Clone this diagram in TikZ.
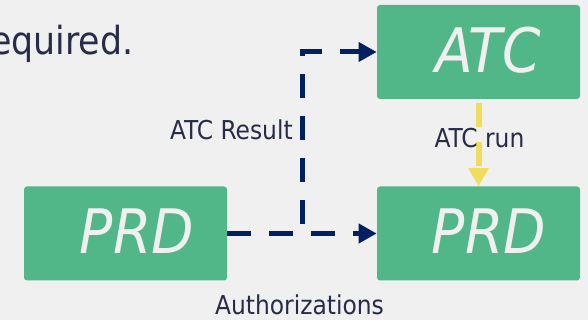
\documentclass[tikz,border=0pt]{standalone}
\usepackage{fontspec}
\setmainfont{DejaVu Sans Condensed}
\usetikzlibrary{arrows.meta}
\definecolor{slidebg}{RGB}{240,240,240}
\definecolor{boxgreen}{RGB}{82,183,136}
\definecolor{navyline}{RGB}{0,32,96}
\definecolor{runyellow}{RGB}{242,220,93}
\definecolor{inktext}{RGB}{40,44,72}

\begin{document}
\begin{tikzpicture}[x=0.75pt,y=0.75pt,
    envbox/.style={fill=boxgreen, rounded corners=2.25pt, minimum width=152.25pt,
      minimum height=70.5pt, inner sep=0pt},
    envtext/.style={text=slidebg, font=\fontsize{46}{48}\selectfont\itshape,
      inner sep=0pt, anchor=base},
    steplabel/.style={text=inktext, font=\fontsize{19.5}{22}\selectfont,
      inner sep=0pt, anchor=base},
    flow/.style={navyline, line width=3.75pt, dash pattern=on 18pt off 13.5pt,
      -{Triangle[length=13.5pt,width=14pt]}},
    run/.style={runyellow, line width=4.5pt, dash pattern=on 18pt off 11.25pt,
      -{Triangle[length=13.5pt,width=14.5pt]}}]
  \fill[slidebg] (0,0) rectangle (588,320);
  \useasboundingbox (0,0) rectangle (588,320);
  % slide text cut by the frame
  \node[text=inktext, font=\fontsize{29}{32}\selectfont, inner sep=0pt,
    anchor=base west] (head) at (-10,265) {equired.};
  % environments
  \node[envbox] (atc) at (478.5,268) {};
  \node[envbox] (prdL) at (125.5,86.5) {};
  \node[envbox] (prdR) at (478.5,86.5) {};
  \node[envtext] (atcname) at (488,247) {ATC};
  \node[envtext] (prdLname) at (137,66) {PRD};
  \node[envtext] (prdRname) at (489,66) {PRD};
  % transports
  \path (prdL.east) -- ++(75,0) coordinate (elbow);
  \draw[flow] (prdL.east) -- (prdR.west);
  \draw[flow] (prdL.east) -- (elbow) |- (atc.west);
  \draw[run, shorten <=3pt] (atc.south) -- (prdR.north);
  % labels
  \node[steplabel, anchor=base east] (result) at (293,180) {ATC Result};
  \node[steplabel] (runlbl) at (479.5,172) {ATC run};
  \node[steplabel] (auth) at (299.5,5) {Authorizations};
\end{tikzpicture}
\end{document}
